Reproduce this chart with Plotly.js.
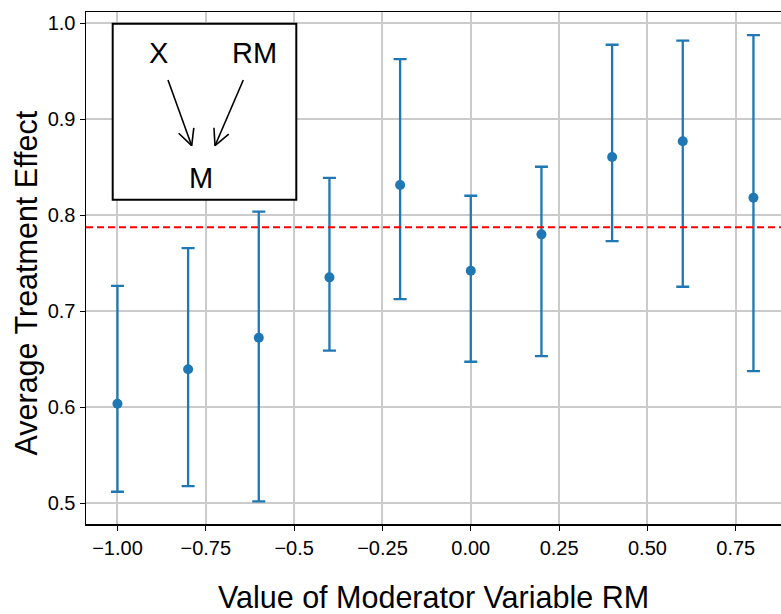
<!DOCTYPE html>
<html>
<head>
<meta charset="utf-8">
<script src="https://cdn.plot.ly/plotly-3.0.1.min.js"></script>
<style>html,body{margin:0;padding:0;background:#fff;}#chart{width:781px;height:614px;}</style>
</head>
<body>
<div id="chart"></div>
<script>
// ---- data ----
const moderatorValues = [-1.0, -0.8, -0.6, -0.4, -0.2, 0.0, 0.2, 0.4, 0.6, 0.8];
const ateEstimate    = [0.6037, 0.6396, 0.6725, 0.7354, 0.8316, 0.7423, 0.7802, 0.8607, 0.8771, 0.8183];
const ciUpper        = [0.7265, 0.7659, 0.8038, 0.8390, 0.9628, 0.8204, 0.8506, 0.9777, 0.9819, 0.9878];
const ciLower        = [0.5121, 0.5180, 0.5020, 0.6590, 0.7128, 0.6475, 0.6534, 0.7732, 0.7256, 0.6378];
const overallATE     = 0.7875;
const xTickVals  = [-1.0, -0.75, -0.5, -0.25, 0.0, 0.25, 0.5, 0.75];
const xTickText  = ["\u22121.00", "\u22120.75", "\u22120.5", "\u22120.25", "0.00", "0.25", "0.50", "0.75"];
const yTickVals  = [0.5, 0.6, 0.7, 0.8, 0.9, 1.0];
const dagNodes   = ["X", "RM", "M"];
const xTitle = 'Value of Moderator Variable RM';
const yTitle = 'Average Treatment Effect';

// ---- layout helpers (pixel -> paper for the inset diagram) ----
const W = 781, H = 614;
const M = {l: 86, r: 0, t: 12, b: 90};
const PW = W - M.l - M.r, PH = H - M.t - M.b;
const px = x => (x - M.l) / PW;
const py = y => (H - M.b - y) / PH;

const blue = '#1f77b4';
const font = '"Liberation Sans", Arial, Helvetica, sans-serif';

const errPlus  = ciUpper.map((u, i) => u - ateEstimate[i]);
const errMinus = ateEstimate.map((v, i) => v - ciLower[i]);

const trace = {
  type: 'scatter', mode: 'markers',
  x: moderatorValues, y: ateEstimate,
  marker: {color: blue, size: 10},
  error_y: {type: 'data', symmetric: false, array: errPlus, arrayminus: errMinus,
            color: blue, thickness: 2.3, width: 6.5},
  hoverinfo: 'skip', showlegend: false
};

const shapes = [
  {type: 'line', xref: 'paper', yref: 'y', x0: 0, x1: 1, y0: overallATE, y1: overallATE,
   line: {color: 'red', width: 2, dash: '7px,4px'}, layer: 'above'},
  {type: 'rect', xref: 'paper', yref: 'paper', x0: px(112.7), x1: px(296.3), y0: py(199.7), y1: py(23.7),
   line: {color: 'black', width: 2}, fillcolor: 'white', layer: 'above'}
];

function arrow(x0, y0, x1, y1) {
  const L = 18, ang = 26.6 * Math.PI / 180;
  const dx = x0 - x1, dy = y0 - y1, n = Math.hypot(dx, dy);
  const ux = dx / n, uy = dy / n;
  const ln = {color: 'black', width: 1.6};
  shapes.push({type: 'line', xref: 'paper', yref: 'paper', x0: px(x0), y0: py(y0), x1: px(x1), y1: py(y1), line: ln, layer: 'above'});
  [ang, -ang].forEach(a => {
    const rx = ux * Math.cos(a) - uy * Math.sin(a);
    const ry = ux * Math.sin(a) + uy * Math.cos(a);
    shapes.push({type: 'line', xref: 'paper', yref: 'paper', x0: px(x1), y0: py(y1),
                 x1: px(x1 + L * rx), y1: py(y1 + L * ry), line: ln, layer: 'above'});
  });
}
arrow(168, 80, 191.7, 145.7);
arrow(243.3, 80, 215, 145.7);

const nodePos = [[158, 53], [254.5, 53], [201, 178]];
const annotations = dagNodes.map((t, i) => ({
  text: t, xref: 'paper', yref: 'paper', x: px(nodePos[i][0]), y: py(nodePos[i][1]),
  xanchor: 'center', yanchor: 'middle', showarrow: false,
  font: {family: font, size: 29, color: 'black'}
}));
annotations.push({
  text: yTitle, xref: 'paper', yref: 'paper', x: px(25.5), y: py(283),
  xanchor: 'center', yanchor: 'middle', textangle: -90, showarrow: false,
  font: {family: font, size: 30.5, color: 'black'}
});

const layout = {
  width: W, height: H,
  margin: {l: M.l, r: M.r, t: M.t, b: M.b, pad: 0},
  paper_bgcolor: 'white', plot_bgcolor: 'white',
  font: {family: font, color: 'black'},
  showlegend: false,
  xaxis: {
    range: [-1.089, 0.878], tickvals: xTickVals, ticktext: xTickText,
    showgrid: true, gridcolor: '#cbcbcb', gridwidth: 2, zeroline: false,
    showline: true, linecolor: 'black', linewidth: 1.5, mirror: true,
    ticks: 'outside', ticklen: 5, tickwidth: 1.2, tickcolor: 'black',
    tickfont: {family: font, size: 20, color: 'black'},
    title: {text: xTitle, font: {family: font, size: 30.5, color: 'black'}, standoff: 30},
    automargin: false
  },
  yaxis: {
    range: [0.4785, 1.0118], tickvals: yTickVals, tickformat: '.1f',
    showgrid: true, gridcolor: '#cbcbcb', gridwidth: 2, zeroline: false,
    showline: true, linecolor: 'black', linewidth: 1.5, mirror: false,
    ticks: 'outside', ticklen: 5, tickwidth: 1.2, tickcolor: 'black',
    tickfont: {family: font, size: 20, color: 'black'},
    automargin: false
  },
  shapes: shapes,
  annotations: annotations
};

Plotly.newPlot('chart', [trace], layout, {displayModeBar: false, staticPlot: true});
</script>
</body>
</html>
